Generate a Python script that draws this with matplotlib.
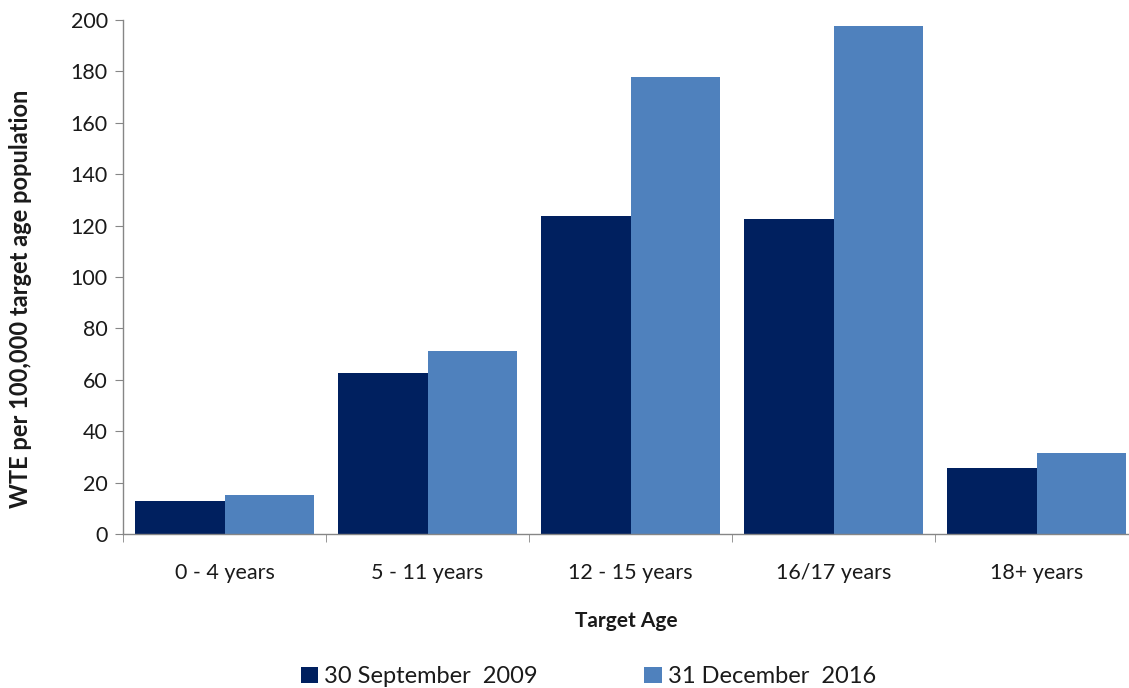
import matplotlib.pyplot as plt
import numpy as np
from matplotlib.ticker import FixedLocator

plt.rcParams['font.family'] = ['Lato', 'DejaVu Sans']

# WTE per 100,000 target age population, by age band
age_bands = ['0 - 4 years', '5 - 11 years', '12 - 15 years', '16/17 years', '18+ years']
sep_2009 = [13.0, 62.6, 123.7, 122.4, 25.6]
dec_2016 = [15.0, 71.2, 178.0, 197.7, 31.4]

dark_blue = '#00205F'
light_blue = '#4F81BD'
axis_grey = '#868686'
text_col = '#1a1a1a'

fig = plt.figure(figsize=(11.29, 6.88), dpi=100)
ax = fig.add_axes([0.109, 0.2238, 0.899, 0.7472])

x = np.arange(len(age_bands))
width = 0.443
ax.bar(x - width / 2, sep_2009, width, color=dark_blue, label='30 September  2009')
ax.bar(x + width / 2, dec_2016, width, color=light_blue, label='31 December  2016')

ax.set_xlim(-0.5, len(age_bands) - 0.5)
ax.set_ylim(0, 200)
ax.set_yticks(np.arange(0, 201, 20))

# category labels centred, tick marks on the boundaries between groups
ax.set_xticks(x)
ax.set_xticklabels(age_bands)
ax.xaxis.set_minor_locator(FixedLocator(np.arange(-0.5, len(age_bands), 1.0)))
ax.tick_params(axis='x', which='major', length=0, pad=21, labelsize=15.5, colors=text_col)
ax.tick_params(axis='x', which='minor', length=6, color=axis_grey, direction='out')
ax.tick_params(axis='y', length=6, color=axis_grey, direction='out', pad=5,
               labelsize=15.5, labelcolor=text_col)

for side in ['top', 'right']:
    ax.spines[side].set_visible(False)
for side in ['left', 'bottom']:
    ax.spines[side].set_color(axis_grey)
    ax.spines[side].set_linewidth(1.0)

ax.set_ylabel('WTE per 100,000 target age population', fontsize=17, fontweight='bold',
              color=text_col)
ax.yaxis.set_label_coords(-0.09, 0.457)
fig.text(0.555, 0.098, 'Target Age', ha='center', va='center', fontsize=15,
         fontweight='bold', color=text_col)

fig.legend(loc='center', bbox_to_anchor=(0.521, 0.016), ncol=2, frameon=False,
           fontsize=17, handlelength=0.75, handleheight=0.7, handletextpad=0.25,
           columnspacing=4.5, labelcolor=text_col)

fig.savefig('out.png', dpi=100)
